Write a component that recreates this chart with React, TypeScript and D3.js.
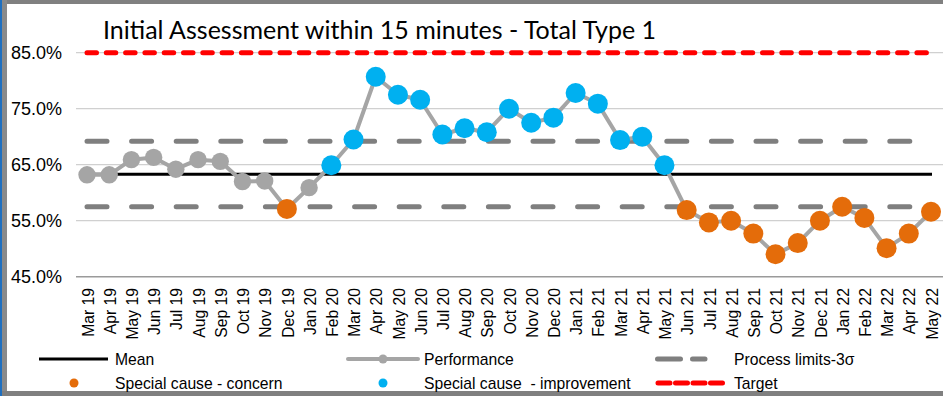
import React from 'react';
import * as d3 from 'd3';

// chart values
const months = [
    'Mar 19', 'Apr 19', 'May 19', 'Jun 19', 'Jul 19', 'Aug 19', 'Sep 19', 'Oct 19', 'Nov 19', 'Dec 19',
    'Jan 20', 'Feb 20', 'Mar 20', 'Apr 20', 'May 20', 'Jun 20', 'Jul 20', 'Aug 20', 'Sep 20', 'Oct 20',
    'Nov 20', 'Dec 20', 'Jan 21', 'Feb 21', 'Mar 21', 'Apr 21', 'May 21', 'Jun 21', 'Jul 21', 'Aug 21',
    'Sep 21', 'Oct 21', 'Nov 21', 'Dec 21', 'Jan 22', 'Feb 22', 'Mar 22', 'Apr 22', 'May 22',
];
const performance = [
    63.2, 63.2, 65.9, 66.3, 64.2, 65.9, 65.6, 62.0, 62.1, 57.1,
    60.9, 64.9, 69.5, 80.7, 77.5, 76.6, 70.4, 71.5, 70.8, 75.0,
    72.5, 73.4, 77.8, 75.9, 69.4, 70.0, 64.9, 56.9, 54.7, 55.0,
    52.7, 49.0, 51.0, 55.0, 57.5, 55.5, 50.1, 52.7, 56.6,
];
// 'c' = common cause, 'x' = special cause concern, 'i' = special cause improvement
const status = [
    'c', 'c', 'c', 'c', 'c', 'c', 'c', 'c', 'c', 'x',
    'c', 'i', 'i', 'i', 'i', 'i', 'i', 'i', 'i', 'i',
    'i', 'i', 'i', 'i', 'i', 'i', 'i', 'x', 'x', 'x',
    'x', 'x', 'x', 'x', 'x', 'x', 'x', 'x', 'x',
];
const meanValue = 63.3;
const upperLimit = 69.2;
const lowerLimit = 57.5;
const targetValue = 85;
const yTicks = [45, 55, 65, 75, 85];

const W = 943;
const H = 396;
const GREY = '#a5a5a5';
const LIMIT = '#7f7f7f';
const ORANGE = '#e46c0a';
const BLUE = '#00b0f0';
const TICK_FONT = "'Liberation Sans', Arial, sans-serif";

export default function App() {
    const x = d3.scalePoint<string>().domain(months).range([87, 931]);
    const y = d3.scaleLinear().domain([45, 85]).range([276.7, 52.7]);

    const x0 = x(months[0])!;
    const x1 = x(months[months.length - 1])!;

    const line = d3.line<number>()
        .x((_, i) => x(months[i])!)
        .y(d => y(d));

    const colorOf = (s: string) => (s === 'x' ? ORANGE : s === 'i' ? BLUE : GREY);

    return (
        <svg width={W} height={H} style={{ position: 'absolute', left: 0, top: 0, display: 'block', background: '#fff' }}>
            {/* frame */}
            <rect x={0} y={0} width={W} height={H} fill="#fff" />
            <rect x={2} y={0} width={W - 2} height={4} fill="#808080" />
            <rect x={2} y={0} width={5} height={H} fill="#8a8a8a" />
            <rect x={2} y={391} width={W - 2} height={5} fill="#808080" />
            <rect x={0} y={0} width={2} height={H} fill="#1f6fbf" />

            {/* title */}
            <text x={103} y={39} fontFamily="Lato, 'Open Sans', sans-serif" fontSize={25} fill="#000">
                Initial Assessment within 15 minutes - Total Type 1
            </text>

            {/* grid + y labels */}
            {yTicks.map(t => (
                <g key={t}>
                    <line x1={76} x2={W} y1={y(t)} y2={y(t)}
                        stroke={t === 45 ? '#9a9a9a' : '#d0d0d0'} strokeWidth={t === 45 ? 1.6 : 1.3} />
                    <text x={62} y={y(t)} dy="0.36em" textAnchor="end" fontFamily={TICK_FONT} fontSize={18} fill="#000">
                        {t.toFixed(1)}%
                    </text>
                </g>
            ))}

            {/* x labels */}
            {months.map(m => (
                <text key={m} transform={`translate(${x(m)! + 1},288) rotate(-90)`} dy="0.36em" textAnchor="end"
                    fontFamily={TICK_FONT} fontSize={15.7} fill="#000">
                    {m}
                </text>
            ))}

            {/* target */}
            <line x1={x0} x2={x1} y1={y(targetValue)} y2={y(targetValue)} stroke="#ff0000" strokeWidth={5}
                strokeDasharray="9.5 9.8" strokeLinecap="round" />

            {/* process limits */}
            {[upperLimit, lowerLimit].map(v => (
                <line key={v} x1={x0} x2={x1} y1={y(v)} y2={y(v)} stroke={LIMIT} strokeWidth={5}
                    strokeDasharray="20 24.6" strokeLinecap="round" />
            ))}

            {/* mean */}
            <line x1={x0} x2={932} y1={y(meanValue)} y2={y(meanValue)} stroke="#000" strokeWidth={3} />

            {/* performance */}
            <path d={line(performance)!} fill="none" stroke={GREY} strokeWidth={4} strokeLinejoin="round" />
            {performance.map((v, i) => (
                <circle key={i} cx={x(months[i])!} cy={y(v)} r={status[i] === 'c' ? 8.7 : 10}
                    fill={colorOf(status[i])} />
            ))}

            {/* legend */}
            <g fontFamily={TICK_FONT} fontSize={15.7} fill="#000">
                <line x1={39} x2={108} y1={359} y2={359} stroke="#000" strokeWidth={3} />
                <text x={115} y={359} dy="0.36em">Mean</text>

                <line x1={348} x2={418} y1={359} y2={359} stroke={GREY} strokeWidth={4} strokeLinecap="round" />
                <circle cx={383} cy={359} r={4.5} fill={GREY} />
                <text x={424} y={359} dy="0.36em">Performance</text>

                <line x1={657.5} x2={705} y1={359} y2={359} stroke={LIMIT} strokeWidth={5}
                    strokeDasharray="23 12" strokeLinecap="round" />
                <text x={734} y={359} dy="0.36em">Process limits-3σ</text>

                <circle cx={74} cy={383} r={4.5} fill={ORANGE} />
                <text x={115} y={383} dy="0.36em">Special cause - concern</text>

                <circle cx={383} cy={383} r={4.5} fill={BLUE} />
                <text x={424} y={383} dy="0.36em" style={{ whiteSpace: 'pre' }}>Special cause  - improvement</text>

                <line x1={658} x2={724} y1={383} y2={383} stroke="#ff0000" strokeWidth={5}
                    strokeDasharray="12 5.5" strokeLinecap="round" />
                <text x={734} y={383} dy="0.36em">Target</text>
            </g>
        </svg>
    );
}
